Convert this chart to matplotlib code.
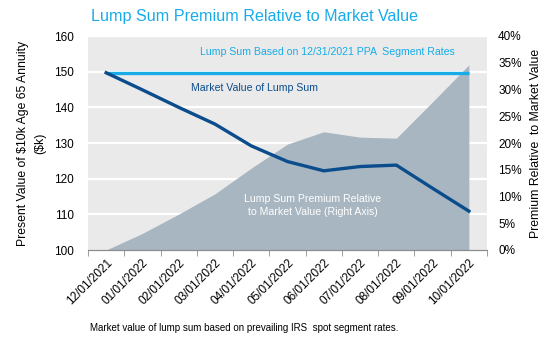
import numpy as np
import matplotlib
matplotlib.use("Agg")
import matplotlib.pyplot as plt
from matplotlib.ticker import FixedLocator, PercentFormatter

# Data
dates = ["12/01/2021", "01/01/2022", "02/01/2022", "03/01/2022", "04/01/2022",
         "05/01/2022", "06/01/2022", "07/01/2022", "08/01/2022", "09/01/2022",
         "10/01/2022"]
market_value = [149.7, 144.9, 140.0, 135.3, 129.2, 124.8, 122.2, 123.4, 123.8, 117.3, 110.9]
lump_sum_ppa = [149.6] * 11
premium_pct = [0.0, 3.1, 6.7, 10.5, 15.3, 19.8, 22.1, 21.1, 20.9, 27.7, 34.6]

CYAN = "#17ACE8"
NAVY = "#0B4C8C"
AREA = "#A8B6C1"
BG = "#EAEAEA"


def main() -> None:
    plt.rcParams["font.family"] = ["Liberation Sans", "DejaVu Sans"]
    fig = plt.figure(figsize=(5.58, 3.42), dpi=100)
    ax = fig.add_axes([88 / 558, 1 - 250 / 342, 399 / 558, 214 / 342])
    ax2 = ax.twinx()

    x = np.arange(len(dates))

    # area on the right axis, drawn beneath the lines
    ax.set_zorder(ax2.get_zorder() + 1)
    ax.patch.set_visible(False)
    ax2.patch.set_visible(True)
    ax2.patch.set_facecolor(BG)
    ax2.fill_between(x, premium_pct, 0, color=AREA, lw=0, zorder=2)
    ax2.set_ylim(0, 40)
    ax2.set_yticks(np.arange(0, 41, 5))
    ax2.yaxis.set_major_formatter(PercentFormatter(decimals=0))

    # left axis
    ax.set_ylim(100, 160)
    ax.set_yticks(np.arange(100, 161, 10))
    ax.set_xlim(-0.5, len(dates) - 0.5)
    # white gridlines for the left axis, under the area
    for v in np.arange(110, 161, 10):
        ax2.plot([0, 1], [v, v], transform=ax.get_yaxis_transform(),
                 color="white", lw=1.6, zorder=1)

    ax.plot(x, lump_sum_ppa, color=CYAN, lw=2.4, solid_capstyle="butt")
    ax.plot(x, market_value, color=NAVY, lw=2.4, solid_joinstyle="round")

    ax.set_xticks(x)
    ax.set_xticklabels(dates, rotation=45, ha="right", rotation_mode="anchor")
    ax.xaxis.set_minor_locator(FixedLocator(np.arange(-0.5, len(dates), 1)))
    ax.tick_params(axis="x", which="major", length=0, pad=5, labelsize=8.5)
    ax.tick_params(axis="x", which="minor", length=4, color="#8C8C8C", direction="out")
    ax.tick_params(axis="y", length=0, labelsize=8.5, pad=10)
    ax2.tick_params(axis="y", length=0, labelsize=8.5, pad=8)

    for a in (ax, ax2):
        for side in ("top", "left", "right"):
            a.spines[side].set_visible(False)
        a.spines["bottom"].set_color("#8C8C8C")

    ax.set_ylabel("Present Value of \\$10k Age 65 Annuity\n(\\$k)",
                  fontsize=8.8, labelpad=6, linespacing=1.5)
    ax2.set_ylabel("Premium Relative  to Market Value", fontsize=8.8, labelpad=6)

    ax.text(6.1, 155.4, "Lump Sum Based on 12/31/2021 PPA  Segment Rates",
            color=CYAN, fontsize=7.6, ha="center", va="center")
    ax.text(4.1, 145.3, "Market Value of Lump Sum",
            color=NAVY, fontsize=7.6, ha="center", va="center")
    ax.text(5.7, 112.5, "Lump Sum Premium Relative\nto Market Value (Right Axis)",
            color="white", fontsize=7.6, ha="center", va="center", linespacing=1.3)

    fig.text(91 / 558, 1 - 16 / 342, "Lump Sum Premium Relative to Market Value",
             color=CYAN, fontsize=11.6, ha="left", va="center")
    fig.text(90 / 558, 1 - 328 / 342,
             "Market value of lump sum based on prevailing IRS  spot segment rates.",
             fontsize=7, ha="left", va="center")

    fig.savefig("out.png", dpi=100, facecolor="white")


if __name__ == "__main__":
    main()
